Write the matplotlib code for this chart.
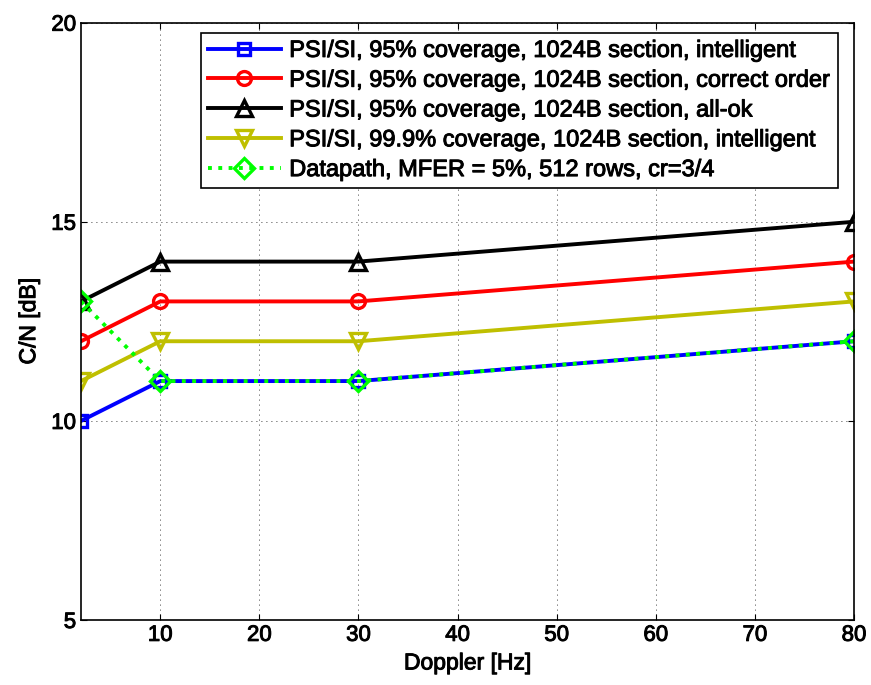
import matplotlib
matplotlib.use('Agg')
import matplotlib.pyplot as plt
import matplotlib.patheffects as pe

plt.rcParams['font.family'] = ['Liberation Sans', 'DejaVu Sans']

doppler = [2, 10, 30, 80]
psi_95_intelligent = [10, 11, 11, 12]
psi_95_correct = [12, 13, 13, 14]
psi_95_allok = [13, 14, 14, 15]
psi_999_intelligent = [11, 12, 12, 13]
datapath = [13, 11, 11, 12]

labels = ['PSI/SI, 95% coverage, 1024B section, intelligent',
          'PSI/SI, 95% coverage, 1024B section, correct order',
          'PSI/SI, 95% coverage, 1024B section, all-ok',
          'PSI/SI, 99.9% coverage, 1024B section, intelligent',
          'Datapath, MFER = 5%, 512 rows, cr=3/4']

fig = plt.figure(figsize=(8.71, 6.85), dpi=100)
ax = fig.add_axes([0.093, 0.0949, 0.8875, 0.872])

lw = 2.8
mew = 2.4
ax.plot(doppler, psi_95_intelligent, '-s', color='#0000ff', lw=lw, ms=8.5,
        mfc='none', mew=mew, label=labels[0])
ax.plot(doppler, psi_95_correct, '-o', color='#ff0000', lw=lw, ms=10,
        mfc='none', mew=mew, label=labels[1])
ax.plot(doppler, psi_95_allok, '-^', color='#000000', lw=lw, ms=11,
        mfc='none', mew=mew, label=labels[2])
ax.plot(doppler, psi_999_intelligent, '-v', color='#bfbf00', lw=lw, ms=11,
        mfc='none', mew=mew, label=labels[3])
ax.plot(doppler, datapath, ':D', color='#00ff00', lw=lw, ms=10,
        mfc='none', mew=mew, label=labels[4])

ax.set_xlim(2, 80)
ax.set_ylim(5, 20)
ax.set_xticks(range(10, 81, 10))
ax.set_yticks([5, 10, 15, 20])
ax.grid(True, linestyle=(0, (1, 5)), color='black', lw=0.6)
ax.tick_params(direction='in', labelsize=16, top=True, right=True, length=4)
for s in ax.spines.values():
    s.set_linewidth(1.2)

thick = [pe.withStroke(linewidth=0.7, foreground='black')]
ax.set_xlabel('Doppler [Hz]', fontsize=16.5, path_effects=thick)
ax.set_ylabel('C/N [dB]', fontsize=16.5, path_effects=thick, labelpad=8)
for t in ax.get_xticklabels() + ax.get_yticklabels():
    t.set_path_effects(thick)

leg = ax.legend(loc='upper right', bbox_to_anchor=(0.979, 0.983),
                borderaxespad=0, fontsize=17, fancybox=False, framealpha=1,
                edgecolor='black', handlelength=3.1, handletextpad=0.35,
                borderpad=0.3, labelspacing=0.33)
leg.get_frame().set_linewidth(1.2)
for t in leg.get_texts():
    t.set_path_effects(thick)

fig.savefig('out.png', dpi=100)
